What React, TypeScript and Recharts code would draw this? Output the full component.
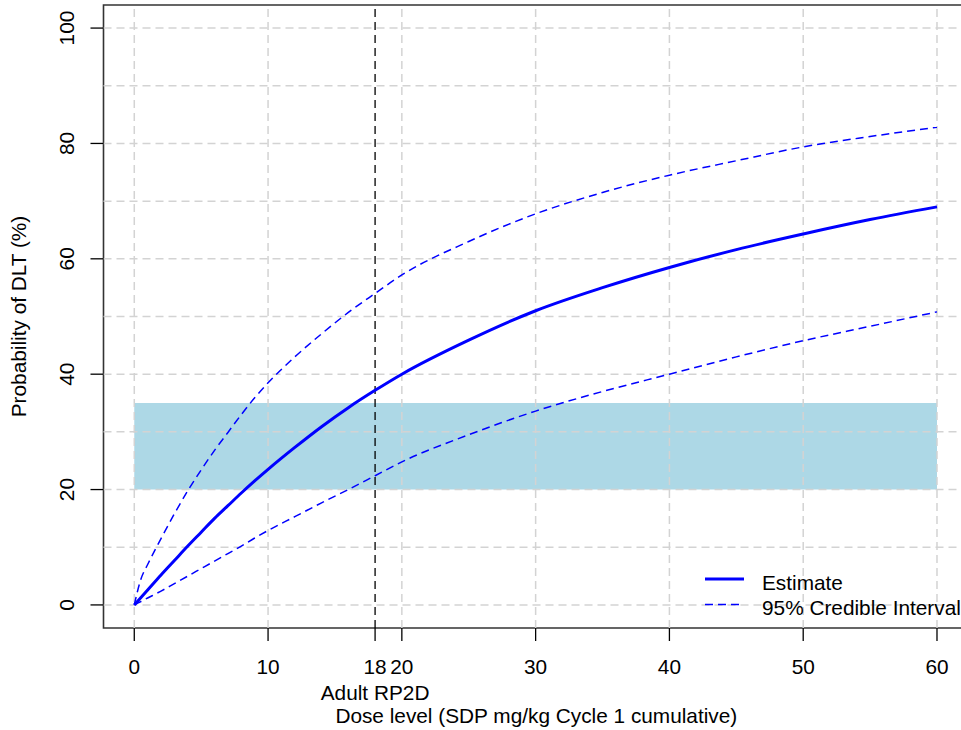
import React from "react";
import {
  LineChart,
  Line,
  XAxis,
  YAxis,
  ReferenceArea,
  ReferenceLine,
  Legend,
  Label,
} from "recharts";

// ---------- data ----------
const doses = [0, 0.5, 1, 2, 3, 4, 5, 6, 7, 8, 9, 10, 12, 14, 16, 18, 20, 25, 30, 35, 40, 45, 50, 55, 60];
const estimate = [0, 1.3, 2.6, 5.2, 7.7, 10.2, 12.6, 15.0, 17.2, 19.4, 21.5, 23.5, 27.3, 30.9, 34.2, 37.2, 40.0, 45.9, 51.0, 55.0, 58.5, 61.6, 64.3, 66.8, 69.0];
const upperCI = [0, 4.5, 7.0, 11.5, 15.8, 19.8, 23.4, 26.8, 29.9, 33.0, 35.9, 38.5, 43.0, 47.0, 50.7, 54.0, 57.2, 63.0, 67.8, 71.5, 74.5, 77.0, 79.4, 81.2, 82.8];
const lowerCI = [0, 0.6, 1.2, 2.4, 3.7, 5.0, 6.3, 7.6, 8.9, 10.2, 11.6, 12.9, 15.3, 17.7, 20.0, 22.4, 24.8, 29.5, 33.6, 37.0, 40.0, 43.0, 45.8, 48.3, 50.8];

const xTicks = [0, 10, 18, 20, 30, 40, 50, 60];
const yTicks = [0, 20, 40, 60, 80, 100];
const gridX = [0, 10, 20, 30, 40, 50, 60];
const gridY = [0, 10, 20, 30, 40, 50, 60, 70, 80, 90, 100];

const targetBand = { doseFrom: 0, doseTo: 60, low: 20, high: 35 };
const rp2dDose = 18;
const rp2dLabel = "Adult RP2D";

const xDomain = [-2.3, 62.4];
const yDomain = [-4, 104];

const xTitle = "Dose level (SDP mg/kg Cycle 1 cumulative)";
const yTitle = "Probability of DLT (%)";
const legendNames = { est: "Estimate", ci: "95% Credible Interval" };

const tableData = doses.map((d, i) => ({
  dose: d,
  est: estimate[i],
  lo: lowerCI[i],
  hi: upperCI[i],
}));

// ---------- styles ----------
const FONT = "'Liberation Sans', Arial, sans-serif";
const FS = 20.8;
const BLUE = "#0000FF";
const GRID = "#D3D3D3";

const XTick = (props: any) => {
  const { x, y, payload } = props;
  return (
    <g>
      <text x={x} y={y + 25} textAnchor="middle" dominantBaseline="central" fontFamily={FONT} fontSize={FS} fill="#000">
        {payload.value}
      </text>
      {payload.value === rp2dDose && (
        <text x={x} y={y + 51} textAnchor="middle" dominantBaseline="central" fontFamily={FONT} fontSize={FS} fill="#000">
          {rp2dLabel}
        </text>
      )}
    </g>
  );
};

const YTick = (props: any) => {
  const { x, y, payload } = props;
  const cx = x - 23.5;
  return (
    <text
      x={cx}
      y={y}
      transform={`rotate(-90, ${cx}, ${y})`}
      textAnchor="middle"
      dominantBaseline="central"
      fontFamily={FONT}
      fontSize={FS}
      fill="#000"
    >
      {payload.value}
    </text>
  );
};

const LegendContent = () => (
  <svg width={300} height={50} style={{ overflow: "visible", display: "block" }}>
    <line x1={5} x2={44} y1={12} y2={12} stroke={BLUE} strokeWidth={3} />
    <text x={62} y={15} dominantBaseline="central" fontFamily={FONT} fontSize={FS} fill="#000">
      {legendNames.est}
    </text>
    <line x1={5} x2={44} y1={37.5} y2={37.5} stroke={BLUE} strokeWidth={1.5} strokeDasharray="8 5" />
    <text x={62} y={40.5} dominantBaseline="central" fontFamily={FONT} fontSize={FS} fill="#000">
      {legendNames.ci}
    </text>
  </svg>
);

export default function App() {
  return (
    <div
      style={{
        position: "absolute",
        left: 0,
        top: 0,
        width: 961,
        height: 730,
        overflow: "hidden",
        background: "#fff",
      }}
    >
      <LineChart
        width={990}
        height={730}
        data={tableData}
        margin={{ top: 5, right: 20.9, left: 0, bottom: 0 }}
      >
        <XAxis
          dataKey="dose"
          type="number"
          domain={xDomain}
          allowDataOverflow
          ticks={xTicks}
          interval={0}
          tickSize={13}
          tickMargin={0}
          tick={<XTick />}
          tickLine={{ stroke: "#000", strokeWidth: 1.3 }}
          axisLine={false}
          height={102}
        >
          <Label
            content={(p: any) => {
              const vb = p.viewBox;
              return (
                <text
                  x={vb.x + vb.width / 2}
                  y={vb.y + 87}
                  textAnchor="middle"
                  dominantBaseline="central"
                  fontFamily={FONT}
                  fontSize={FS}
                  fill="#000"
                >
                  {xTitle}
                </text>
              );
            }}
          />
        </XAxis>
        <YAxis
          type="number"
          domain={yDomain}
          allowDataOverflow
          ticks={yTicks}
          interval={0}
          tickSize={13}
          tickMargin={0}
          tick={<YTick />}
          tickLine={{ stroke: "#000", strokeWidth: 1.3 }}
          axisLine={false}
          width={103.5}
        >
          <Label
            content={(p: any) => {
              const vb = p.viewBox;
              const cx = 18;
              const cy = vb.y + vb.height / 2;
              return (
                <text
                  x={cx}
                  y={cy}
                  transform={`rotate(-90, ${cx}, ${cy})`}
                  textAnchor="middle"
                  dominantBaseline="central"
                  fontFamily={FONT}
                  fontSize={FS}
                  fill="#000"
                >
                  {yTitle}
                </text>
              );
            }}
          />
        </YAxis>

        <ReferenceArea
          x1={targetBand.doseFrom}
          x2={targetBand.doseTo}
          y1={targetBand.low}
          y2={targetBand.high}
          fill="#ADD8E6"
          fillOpacity={1}
          stroke="none"
        />
        {gridY.map((v) => (
          <ReferenceLine key={"gy" + v} y={v} stroke={GRID} strokeWidth={1.5} strokeDasharray="8 5" />
        ))}
        {gridX.map((v) => (
          <ReferenceLine key={"gx" + v} x={v} stroke={GRID} strokeWidth={1.5} strokeDasharray="8 5" />
        ))}
        <ReferenceLine x={rp2dDose} stroke="#000" strokeWidth={1.3} strokeDasharray="8 5" />
        <ReferenceArea
          x1={xDomain[0]}
          x2={xDomain[1]}
          y1={yDomain[0]}
          y2={yDomain[1]}
          fill="none"
          stroke="#333"
          strokeWidth={1.6}
        />

        <Line type="monotone" dataKey="hi" stroke={BLUE} strokeWidth={1.5} strokeDasharray="8 5" dot={false} isAnimationActive={false} legendType="none" />
        <Line type="monotone" dataKey="lo" stroke={BLUE} strokeWidth={1.5} strokeDasharray="8 5" dot={false} isAnimationActive={false} name={legendNames.ci} />
        <Line type="monotone" dataKey="est" stroke={BLUE} strokeWidth={3} dot={false} isAnimationActive={false} name={legendNames.est} />

        <Legend
          layout="vertical"
          align="center"
          verticalAlign="middle"
          content={<LegendContent />}
          wrapperStyle={{ left: 700, top: 567, width: 300, height: 50 }}
        />
      </LineChart>
    </div>
  );
}
